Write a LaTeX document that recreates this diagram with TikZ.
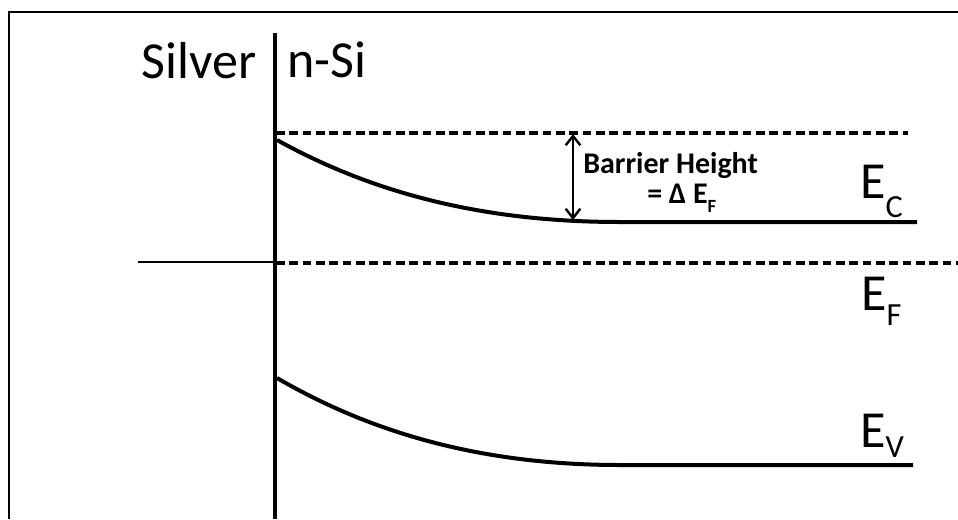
\documentclass[tikz,border=0pt]{standalone}
\usepackage{fontspec}
\setmainfont{Carlito}
\usepackage{tikz}
\usetikzlibrary{positioning, arrows.meta, calc}

\newcommand{\bandsub}[2][0.38em]{\raisebox{-#1}{\scalebox{0.62}{#2}}}

\begin{document}
\begin{tikzpicture}[x=0.75pt, y=-0.75pt,
    band/.style={line width=3pt},
    level/.style={line width=2.6pt, dash pattern=on 6.5pt off 3.5pt},
    big/.style={inner sep=0pt, font=\fontsize{39}{40}\selectfont},
    small/.style={inner sep=0pt, font=\fontsize{22.5}{24}\selectfont\bfseries}]
          \useasboundingbox (0,0) rectangle (958,519);

          % Frame
          \draw[line width=2pt] (9,519) -- (9,12) -- (958,12);

          % Interface
          \coordinate (ifTop) at (275,33);
          \coordinate (ifBot) at (275,519);
          \draw[line width=3.5pt] (ifTop) -- (ifBot);
          \node[big, anchor=base east] (silver) at (257,78) {Silver};
          \node[big, anchor=base west] (nsi) at (287,77) {n-Si};

          % Conduction band
          \coordinate (ecTop) at (276,133);
          \coordinate (ecDash) at (908,133);
          \coordinate (ecStart) at (277,140);
          \coordinate (ecFlat) at (620,222);
          \coordinate (ecEnd) at (917,222);
          \draw[level] (ecTop) -- (ecDash);
          \draw[band] (ecStart) .. controls (385,200) and (500,222) .. (ecFlat) -- (ecEnd);
          \node[big, anchor=base west] (ec) at (860,198) {E\bandsub{C}};

          % Fermi level
          \coordinate (efLeft) at (138,262);
          \coordinate (efMid) at (276,262);
          \coordinate (efEnd) at (958,263);
          \draw[line width=1.4pt] (efLeft) -- (efMid);
          \draw[level] (efMid |- efEnd) -- (efEnd);
          \node[big, anchor=base west] (ef) at (861,310) {E\bandsub[0.3em]{F}};

          % Valence band
          \coordinate (evStart) at (277,378);
          \coordinate (evFlat) at (620,465);
          \coordinate (evEnd) at (913,465);
          \draw[band] (evStart) .. controls (385,441) and (500,465) .. (evFlat) -- (evEnd);
          \node[big, anchor=base west] (ev) at (860,447) {E\bandsub[0.21em]{V}};

          % Barrier height
          \coordinate (bhTop) at (573,134);
          \coordinate (bhBot) at (573,220);
          \draw[line width=1.8pt, {Straight Barb[length=7pt,width=11pt]}-{Straight Barb[length=7pt,width=11pt]}] (bhTop) -- (bhBot);
          \node[small, anchor=base west] (bh) at (583,173) {Barrier Height};
          \node[small, anchor=base west] (dEF) at (647,203) {= Δ E\bandsub[0.3em]{F}};
        \end{tikzpicture}
\end{document}
